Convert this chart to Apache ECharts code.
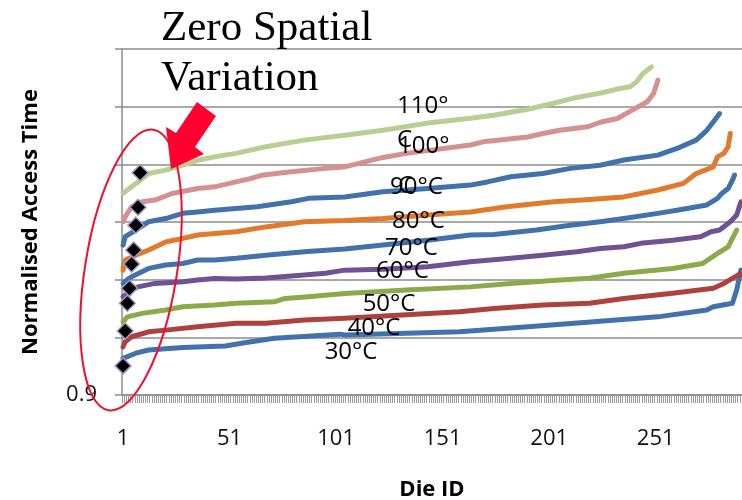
<!DOCTYPE html>
<html><head><meta charset="utf-8">
<script src="https://cdn.jsdelivr.net/npm/echarts@6/dist/echarts.min.js"></script>
<style>html,body{margin:0;padding:0;background:#fff}#c{width:742px;height:500px}</style>
</head><body><div id="c"></div>
<script>
// ---- data ----
const dieCount = 291;                       // dies on the x axis (1..291)
const xTickLabels = ['1', '51', '101', '151', '201', '251'];
const yMin = 0.9, yMax = 1.02, yStep = 0.02;
const yTickLabels = ['0.9'];
const temps = ['30°C', '40°C', '50°C', '60°C', '70°C', '80°C', '90°C', '100°C', '110°C'];
const labelTexts = ['30°C', '40°C', '50°C', '60°C', '70°C', '80°C', '90°C', '100°\nC', '110°\nC'];
// [die id, normalised access time]
const t30 = [[1,0.9127],[7,0.9145],[13,0.9156],[29,0.9165],[49,0.9170],[58,0.9181],[72,0.9197],[103,0.9211],[105,0.9208],[159,0.9219],[191,0.9237],[222,0.9254],[252,0.9271],[275,0.9295],[278,0.9306],[287,0.9318],[289,0.9364],[290,0.9399],[291,0.9433]];
const t40 = [[1,0.9167],[2,0.9185],[5,0.9202],[13,0.9219],[21,0.9225],[36,0.9237],[54,0.9249],[68,0.9249],[86,0.9260],[105,0.9266],[134,0.9278],[159,0.9289],[175,0.9300],[198,0.9312],[220,0.9318],[236,0.9335],[259,0.9353],[278,0.9370],[283,0.9387],[291,0.9422]];
const t50 = [[1,0.9254],[3,0.9271],[10,0.9283],[21,0.9295],[29,0.9306],[44,0.9312],[54,0.9318],[72,0.9323],[77,0.9335],[88,0.9341],[105,0.9352],[134,0.9364],[164,0.9375],[183,0.9387],[206,0.9399],[220,0.9405],[236,0.9422],[259,0.9439],[273,0.9456],[280,0.9491],[285,0.9514],[287,0.9543],[289,0.9572]];
const t60 = [[1,0.9341],[5,0.9364],[8,0.9375],[16,0.9387],[29,0.9393],[36,0.9399],[44,0.9404],[54,0.9402],[68,0.9406],[86,0.9416],[96,0.9422],[105,0.9433],[123,0.9436],[144,0.9445],[164,0.9462],[183,0.9474],[198,0.9485],[214,0.9497],[225,0.9508],[236,0.9514],[244,0.9526],[259,0.9537],[272,0.9549],[277,0.9566],[281,0.9572],[286,0.9601],[289,0.9624],[291,0.9670]];
const t70 = [[1,0.9387],[3,0.9400],[5,0.9410],[13,0.9439],[21,0.9451],[29,0.9456],[36,0.9468],[44,0.9468],[54,0.9474],[68,0.9485],[86,0.9497],[105,0.9506],[123,0.9520],[144,0.9537],[164,0.9555],[175,0.9557],[195,0.9572],[211,0.9589],[225,0.9601],[236,0.9612],[252,0.9630],[261,0.9641],[275,0.9659],[280,0.9682],[282,0.9699],[285,0.9716],[287,0.9745],[288,0.9763]];
const t80 = [[1,0.9433],[2,0.9468],[7,0.9485],[13,0.9503],[21,0.9531],[29,0.9543],[36,0.9555],[44,0.9560],[54,0.9566],[68,0.9583],[86,0.9601],[105,0.9605],[123,0.9612],[144,0.9624],[164,0.9635],[181,0.9653],[203,0.9670],[220,0.9678],[236,0.9687],[252,0.9711],[264,0.9734],[270,0.9768],[278,0.9791],[280,0.9826],[283,0.9838],[285,0.9861],[286,0.9907]];
const t90 = [[1,0.9520],[2,0.9549],[7,0.9572],[13,0.9601],[21,0.9612],[29,0.9630],[36,0.9635],[44,0.9641],[54,0.9647],[64,0.9653],[80,0.9670],[88,0.9682],[105,0.9687],[123,0.9705],[144,0.9716],[164,0.9728],[172,0.9739],[183,0.9757],[198,0.9768],[211,0.9786],[225,0.9797],[236,0.9815],[252,0.9832],[261,0.9855],[270,0.9884],[275,0.9918],[278,0.9947],[281,0.9976]];
const t100 = [[1,0.9601],[2,0.9618],[5,0.9653],[10,0.9670],[16,0.9676],[24,0.9699],[36,0.9716],[44,0.9722],[54,0.9739],[61,0.9751],[66,0.9762],[80,0.9774],[96,0.9786],[105,0.9791],[123,0.9824],[134,0.9838],[164,0.9867],[170,0.9878],[191,0.9895],[198,0.9907],[206,0.9918],[219,0.9930],[225,0.9946],[233,0.9959],[240,0.9988],[247,1.0017],[250,1.0046],[252,1.0092]];
const t110 = [[1,0.9700],[3,0.9711],[5,0.9722],[8,0.9739],[13,0.9768],[21,0.9780],[29,0.9797],[36,0.9814],[44,0.9826],[54,0.9838],[68,0.9861],[86,0.9884],[105,0.9901],[123,0.9918],[144,0.9943],[164,0.9960],[175,0.9970],[191,0.9991],[203,1.0012],[212,1.0029],[225,1.0047],[234,1.0063],[239,1.0069],[242,1.0086],[245,1.0115],[249,1.0138]];
const zeroVariation = [[9,0.9771],[8,0.9651],[7,0.9589],[6,0.9503],[5,0.9454],[4,0.9370],[3,0.9318],[2,0.9222],[1,0.9101]];
const seriesData = [t30, t40, t50, t60, t70, t80, t90, t100, t110];

// ---- styling ----
const colors = ['#4272ae', '#ae403d', '#8bab4a', '#6f5294', '#4272ae', '#e27a2d', '#4272ae', '#d5918f', '#b7cf92'];
const labelAnchorDie = [105, 105, 105, 123, 123, 123, 123, 123, 123];
const labelOffsets = [[-20, 17], [3, 10], [18, 11], [-7, 2], [2, 3], [9, 3], [7, -5], [15, 9], [14, -7]];
const labelLineHeights = [30, 30, 30, 30, 30, 30, 30, 40, 34];
const FONT = 'Open Sans';
const AXIS_GRAY = '#8c8c8c', TICK_GRAY = '#9a9a9a';
// die d sits at the centre of its slot [d-1, d] on the x axis
const dieX = d => d - 0.5;

const series = seriesData.map((arr, k) => ({
  type: 'line',
  name: temps[k],
  xAxisIndex: 0, yAxisIndex: 0,
  showSymbol: true,
  showAllSymbol: true,
  symbol: 'none',
  animation: false,
  lineStyle: {color: colors[k], width: 5, cap: 'round', join: 'round'},
  itemStyle: {color: colors[k]},
  data: arr.map(([d, v]) => {
    const item = {value: [dieX(d), v]};
    if (d === labelAnchorDie[k]) {
      item.symbol = 'circle';
      item.symbolSize = 0;
      item.label = {
        show: true, formatter: labelTexts[k], position: 'inside', align: 'left', verticalAlign: 'middle',
        offset: labelOffsets[k], fontFamily: FONT, fontSize: 24, color: '#000', lineHeight: labelLineHeights[k]
      };
    }
    return item;
  })
}));
series.push({
  type: 'scatter', name: 'Zero Spatial Variation', xAxisIndex: 0, yAxisIndex: 0,
  symbol: 'diamond', symbolSize: 16, z: 5,
  animation: false,
  itemStyle: {color: '#000', borderColor: '#a598c6', borderWidth: 1.5, opacity: 1},
  data: zeroVariation.map(([d, v]) => [dieX(d), v])
});

const chart = echarts.init(document.getElementById('c'), null, {renderer: 'canvas'});
chart.setOption({
  animation: false,
  title: {
    text: 'Zero Spatial\nVariation', left: 161, top: 4, padding: 0,
    textStyle: {fontFamily: 'Liberation Serif', fontSize: 43, fontWeight: 'normal', lineHeight: 50, color: '#000'}
  },
  grid: [
    {left: 122, right: 0, top: 49, bottom: 105, outerBoundsMode: 'none'},
    // thin strip under the plot that carries the die axis (per-die hatch, labels, name)
    {left: 122, right: 0, top: 395, height: 8, outerBoundsMode: 'none'}
  ],
  xAxis: [{
    gridIndex: 0, type: 'value', min: 0, max: dieCount, show: false
  }, {
    gridIndex: 1, type: 'value', min: 0, max: dieCount, interval: dieCount / 3, z: 10,
    name: 'Die ID', nameLocation: 'middle', nameGap: 76,
    nameTextStyle: {fontFamily: FONT, fontWeight: 'bold', fontSize: 22, color: '#000'},
    axisLine: {show: false, onZero: false},
    axisTick: {show: false},
    minorTick: {show: false, splitNumber: dieCount / 3},
    axisLabel: {
      show: true, margin: 25, fontFamily: FONT, fontSize: 22, color: '#111',
      customValues: xTickLabels.map(s => dieX(+s)),
      formatter: v => String(Math.round(v + 0.5))
    },
    splitLine: {show: true, showMinLine: true, showMaxLine: true, lineStyle: {color: TICK_GRAY, width: 1}},
    minorSplitLine: {show: true, lineStyle: {color: TICK_GRAY, width: 1}}
  }],
  yAxis: [{
    gridIndex: 0, type: 'value', min: yMin, max: yMax, interval: yStep,
    name: 'Normalised Access Time', nameLocation: 'middle', nameGap: 80,
    nameTextStyle: {fontFamily: FONT, fontWeight: 'bold', fontSize: 22, color: '#000'},
    axisLine: {show: true, onZero: false, lineStyle: {color: AXIS_GRAY, width: 1.5}},
    axisTick: {show: true, length: 7, lineStyle: {color: AXIS_GRAY, width: 1.5}},
    axisLabel: {
      margin: 25, fontFamily: FONT, fontSize: 22, color: '#111',
      formatter: v => (yTickLabels.indexOf(String(+v.toFixed(2))) >= 0 ? String(+v.toFixed(2)) : '')
    },
    splitLine: {show: true, showMinLine: true, showMaxLine: true, lineStyle: {color: AXIS_GRAY, width: 1.5}}
  }, {
    gridIndex: 1, type: 'value', min: 0, max: 1, interval: 1, z: 10,
    axisLine: {show: false}, axisTick: {show: false}, axisLabel: {show: false},
    // only the strip's top edge (the die axis line) is drawn
    splitLine: {show: true, showMinLine: true, showMaxLine: true, lineStyle: {color: ['rgba(0,0,0,0)', AXIS_GRAY], width: 1.5}}
  }],
  series: series,
  graphic: [
    {
      type: 'ellipse', x: 131, y: 270, rotation: -0.159, z: 100,
      shape: {cx: 0, cy: 0, rx: 46, ry: 142},
      style: {fill: 'none', stroke: '#ee1030', lineWidth: 2}
    },
    {
      type: 'polygon', z: 100,
      shape: {points: [[197, 102], [216, 116], [195, 147], [204, 154], [171, 169], [166, 127], [176, 133]]},
      style: {fill: '#ff0030'}
    }
  ]
});
</script>
</body></html>
